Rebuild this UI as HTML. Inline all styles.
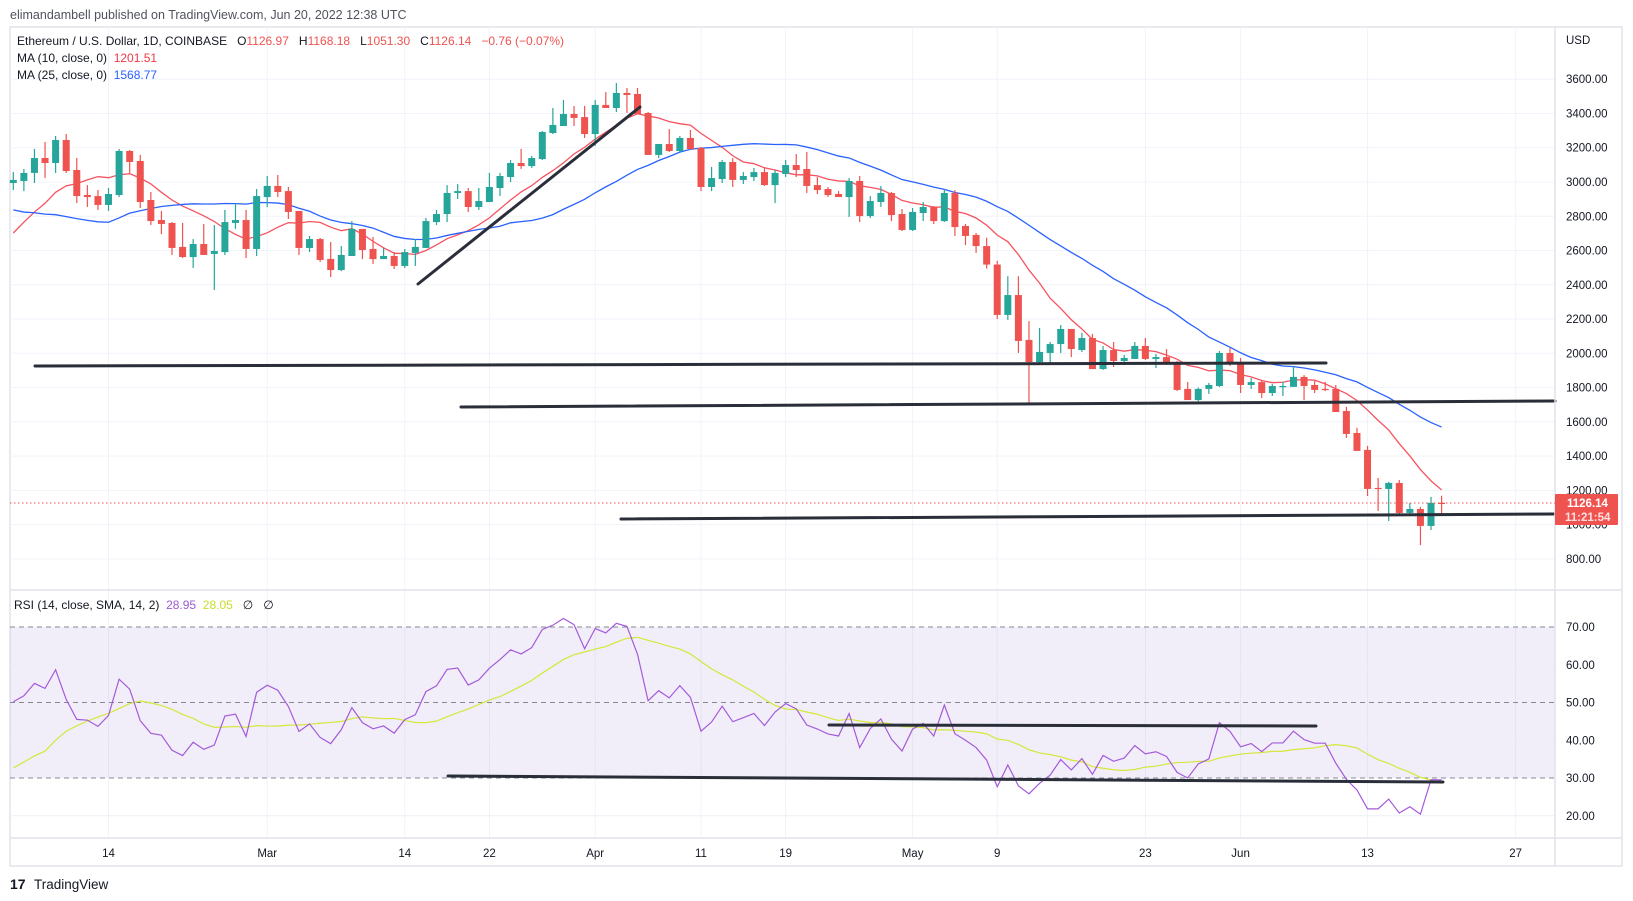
<!DOCTYPE html>
<html><head><meta charset="utf-8"><style>
html,body{margin:0;padding:0;background:#fff;}
svg{display:block;font-family:"Liberation Sans",sans-serif;}
text{white-space:pre;}
</style></head><body>
<svg id="chart" width="1633" height="901" viewBox="0 0 1633 901" xmlns="http://www.w3.org/2000/svg">
<text x="10" y="19" font-size="12.5" fill="#50535e">elimandambell published on TradingView.com, Jun 20, 2022 12:38 UTC</text>
<rect x="10" y="27" width="1612" height="839" fill="#fff" stroke="#e0e3eb" stroke-width="1.5"/>
<g id="grid"></g>
<rect x="10" y="627" width="1545" height="151" fill="#7e57c2" fill-opacity="0.1"/>
<g id="rsiGrid"></g>
<g id="maLines"></g>
<g id="candles"></g>
<g id="rsiLines"></g>
<g stroke="#2a2e39" stroke-width="3" stroke-linecap="round">
<line x1="418" y1="284" x2="640" y2="107"/>
<line x1="35" y1="366" x2="1326" y2="363"/>
<line x1="461" y1="407" x2="1555" y2="401"/>
<line x1="621" y1="519" x2="1555" y2="514"/>
<line x1="448" y1="776" x2="1443" y2="782"/>
<line x1="829" y1="725" x2="1316" y2="726"/>
</g>
<g id="axes"></g>
<line x1="10" y1="590" x2="1622" y2="590" stroke="#e0e3eb" stroke-width="1.5"/>
<line x1="10" y1="838" x2="1622" y2="838" stroke="#e0e3eb" stroke-width="1.5"/>
<line x1="1555" y1="27" x2="1555" y2="866" stroke="#e0e3eb" stroke-width="1.5"/>
<text x="1566" y="44" font-size="11.5" fill="#131722">USD</text>
<g font-size="12">
<text x="17" y="45" fill="#131722">Ethereum / U.S. Dollar, 1D, COINBASE   O<tspan fill="#ef5350">1126.97</tspan>   H<tspan fill="#ef5350">1168.18</tspan>   L<tspan fill="#ef5350">1051.30</tspan>   C<tspan fill="#ef5350">1126.14   −0.76 (−0.07%)</tspan></text>
<text x="17" y="62" fill="#131722">MA (10, close, 0)  <tspan fill="#f23645">1201.51</tspan></text>
<text x="17" y="79" fill="#131722">MA (25, close, 0)  <tspan fill="#2962ff">1568.77</tspan></text>
</g>
<text x="14" y="609" font-size="12" fill="#131722">RSI (14, close, SMA, 14, 2)  <tspan fill="#9c5bd6">28.95</tspan>  <tspan fill="#c9dc2a">28.05</tspan>   ∅   ∅</text>
<g>
<text x="10" y="889" font-size="14" font-weight="bold" fill="#131722">17</text>
<text x="34" y="889" font-size="13.5" fill="#131722">TradingView</text>
</g>
</svg>
<script>
const pre = [3370,3240,3310,3330,3350,3210,3160,3080,2990,2560,2410,2540,2440,2460,2460,2420,2550,2600,2600,2690,2790,2690,2680,2990];
const opens = [2994,3006,3053,3140,3111,3245,3070,2924,2918,2866,2924,3181,3123,2895,2778,2761,2621,2562,2638,2580,2591,2761,2778,2609,2912,2977,2947,2831,2615,2667,2551,2486,2568,2726,2609,2550,2568,2510,2586,2615,2766,2813,2936,2947,2854,2883,2965,3029,3111,3093,3134,3286,3327,3397,3379,3280,3450,3432,3520,3514,3403,3158,3222,3181,3257,3199,2971,3017,3117,3012,3029,3058,2982,3047,3099,3076,2982,2959,2930,2912,3006,2801,2883,2936,2813,2720,2819,2854,2772,2936,2743,2691,2626,2518,2224,2340,2078,1949,2002,2054,2142,2019,2089,1908,2019,1955,1967,2043,1967,1978,1943,1792,1727,1792,1809,2002,1943,1815,1832,1768,1804,1804,1862,1815,1792,1792,1663,1535,1436,1214,1208,1243,1068,1091,992,1126.97];
const highs = [3058,3076,3193,3234,3269,3280,3140,2982,2953,2965,3193,3187,3158,2942,2831,2766,2761,2667,2755,2749,2837,2877,2837,2959,3035,3041,2971,2831,2685,2673,2650,2626,2772,2726,2679,2615,2591,2609,2667,2790,2837,2982,2988,2965,2965,3053,3053,3128,3193,3152,3298,3432,3479,3444,3444,3479,3525,3578,3549,3549,3409,3222,3309,3269,3304,3204,3088,3128,3140,3058,3082,3082,3070,3128,3163,3175,3029,2971,2947,3023,3035,2918,2977,2942,2842,2848,2883,2860,2959,2953,2755,2702,2675,2540,2450,2450,2188,2148,2066,2165,2142,2119,2113,2043,2066,1990,2066,2089,1996,2025,1955,1833,1800,1827,2013,2031,1973,1856,1844,1821,1833,1926,1873,1838,1833,1815,1687,1565,1459,1272,1249,1260,1126,1103,1162,1168.18];
const lows = [2953,2947,2994,3023,3053,3053,2877,2854,2837,2831,2912,3053,2848,2749,2696,2574,2556,2498,2574,2369,2574,2726,2556,2568,2854,2912,2784,2574,2591,2533,2445,2480,2568,2550,2521,2550,2492,2498,2510,2615,2749,2766,2901,2825,2837,2883,2918,3000,3076,3082,3128,3280,3327,3327,3257,3210,3432,3409,3403,3397,3158,3140,3175,3175,3187,2947,2947,2994,2971,2988,3006,2977,2877,3029,3029,2936,2930,2912,2912,2796,2766,2790,2854,2772,2714,2714,2772,2755,2766,2685,2632,2586,2495,2200,2195,2002,1710,1943,1943,2002,1978,2008,1908,1903,1920,1943,1967,1961,1914,1932,1780,1727,1720,1763,1803,1926,1768,1792,1739,1751,1751,1804,1727,1768,1780,1657,1506,1430,1167,1080,1021,1056,1056,880,968,1051.30];
const closes = [3012,3053,3140,3111,3245,3064,2918,2912,2866,2930,3181,3117,2883,2772,2755,2615,2562,2638,2574,2597,2766,2778,2609,2918,2977,2942,2825,2615,2667,2545,2486,2574,2726,2603,2550,2568,2510,2591,2621,2772,2813,2936,2947,2854,2889,2971,3035,3111,3093,3140,3292,3333,3397,3374,3280,3450,3432,3520,3508,3397,3158,3222,3181,3257,3193,2971,3023,3117,3012,3035,3058,2982,3053,3099,3070,2977,2953,2924,2912,3006,2801,2889,2936,2807,2720,2825,2854,2772,2936,2737,2685,2626,2518,2224,2340,2072,1949,2008,2054,2142,2025,2089,1908,2019,1955,1973,2043,1967,1978,1937,1786,1727,1792,1815,2002,1938,1815,1832,1768,1809,1809,1862,1809,1786,1786,1657,1529,1430,1208,1208,1243,1068,1091,992,1127,1126.14];
const priceTicks = [800,1000,1200,1400,1600,1800,2000,2200,2400,2600,2800,3000,3200,3400,3600];
const rsiTicks = [20,30,40,50,60,70];
const dateTickIdx = [9,24,37,45,55,65,73,85,93,107,116,128,142];
const dateTickLabels = ["14","Mar","14","22","Apr","11","19","May","9","23","Jun","13","27"];

const NS = "http://www.w3.org/2000/svg";
function xOf(i){ return 13.3 + i*10.58; }
function yP(p){ return 182 - (p-3000)*0.17129; }
function yR(v){ return 778 - (v-30)*3.775; }
function mk(tag, attrs, parent){ const e=document.createElementNS(NS,tag); for(const k in attrs) e.setAttribute(k,attrs[k]); parent.appendChild(e); return e; }

const grid=document.getElementById('grid'), axes=document.getElementById('axes');
priceTicks.forEach(p=>{
  const l=mk('line',{x1:10,x2:1555,y1:yP(p),y2:yP(p),stroke:'#f0f3fa','stroke-width':1},grid);
  
  
  const t=mk('text',{x:1566,y:yP(p)+4,'font-size':11.5,fill:'#131722'},axes);
  t.textContent=p.toFixed(2);
  
  
});
dateTickIdx.forEach((i,k)=>{
  const x=xOf(i);
  const l=mk('line',{x1:x,x2:x,y1:27,y2:838,stroke:'#f0f3fa','stroke-width':1},grid);
  
  
  const t=mk('text',{x:x,y:857,'font-size':11.5,fill:'#131722','text-anchor':'middle'},axes);
  t.textContent=dateTickLabels[k];
  
  
});
const rg=document.getElementById('rsiGrid');
rsiTicks.forEach(v=>{
  const dashed = (v===70||v===50||v===30);
  const l=mk('line',{x1:10,x2:1555,y1:yR(v),y2:yR(v),stroke:dashed?'#868993':'#eceff5','stroke-width':1,'stroke-dasharray':dashed?'5,4':'none'},rg);
  
  
  const t=mk('text',{x:1566,y:yR(v)+4,'font-size':11.5,fill:'#131722'},axes);
  t.textContent=v.toFixed(2);
  
  
});

const cg=document.getElementById('candles');
closes.forEach((c,i)=>{
  const o=opens[i], up=c>=o, col=up?'#26a69a':'#ef5350', x=xOf(i);
  const w=mk('line',{x1:x,x2:x,y1:yP(highs[i]),y2:yP(lows[i]),stroke:col,'stroke-width':1.2},cg);
  
  
  const top=yP(Math.max(o,c)), bot=yP(Math.min(o,c));
  const b=mk('rect',{x:x-3.5,y:top,width:7,height:Math.max(1.2,bot-top),fill:col},cg);
  
  
});

const all = pre.concat(closes), off = pre.length;
function sma(n){ return closes.map((_,i)=>{ let s=0; for(let k=0;k<n;k++) s+=all[off+i-k]; return s/n; }); }
const mg=document.getElementById('maLines');
[[10,'#f7525f'],[25,'#2962ff']].forEach(([n,col])=>{
  const v=sma(n);
  const pl=mk('polyline',{points:v.map((m,i)=>xOf(i)+','+yP(m)).join(' '),fill:'none',stroke:col,'stroke-width':1.3},mg);
  
  
});

const rsiAll=[]; let ag=0, al=0;
for(let k=1;k<all.length;k++){
  const d=all[k]-all[k-1], g=Math.max(d,0), l=Math.max(-d,0);
  if(k<=14){ ag+=g/14; al+=l/14; } else { ag=(ag*13+g)/14; al=(al*13+l)/14; }
  rsiAll[k]= k>=14 ? (al===0?100:100-100/(1+ag/al)) : null;
}
const rsi = closes.map((_,i)=>rsiAll[off+i]);
const rsiSma = closes.map((_,i)=>{ let s=0,n=0; for(let k=0;k<14;k++){ const v=rsiAll[off+i-k]; if(v!=null){s+=v;n++;} } return s/n; });
const rl=document.getElementById('rsiLines');
const p1=mk('polyline',{points:rsiSma.map((v,i)=>xOf(i)+','+yR(v)).join(' '),fill:'none',stroke:'#d4e73a','stroke-width':1.2},rl);


const p2=mk('polyline',{points:rsi.map((v,i)=>xOf(i)+','+yR(v)).join(' '),fill:'none',stroke:'#a35bd9','stroke-width':1.2},rl);



const last=closes[closes.length-1], ly=yP(last);
const svg=document.getElementById('chart');
const pl=mk('line',{x1:10,x2:1555,y1:ly,y2:ly,stroke:'#ef5350','stroke-width':1,'stroke-dasharray':'1.5,2.5'},svg);


const bx=mk('rect',{x:1555,y:ly-9,width:63,height:31,fill:'#ef5350',rx:1},svg);


const t1=mk('text',{x:1567,y:ly+4,'font-size':11.5,'font-weight':'bold',fill:'#fff'},svg);
t1.textContent=last.toFixed(2);


const t2=mk('text',{x:1565,y:ly+18,'font-size':11.5,'font-weight':'bold',fill:'#fde0e0'},svg);
t2.textContent='11:21:54';


</script>
</body></html>
